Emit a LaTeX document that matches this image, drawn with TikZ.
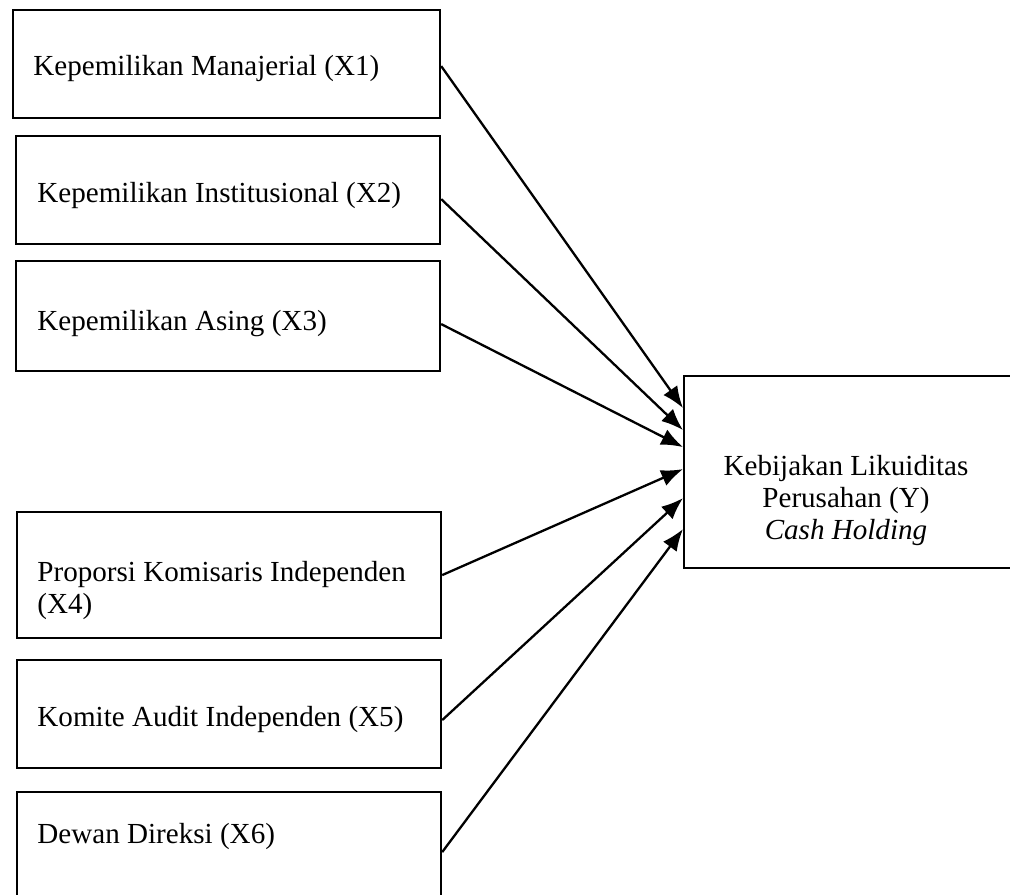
\documentclass[tikz,border=0pt]{standalone}
\usepackage{fontspec}
\setmainfont{Liberation Serif}
\usetikzlibrary{positioning,calc,arrows.meta}
\newdimen\px
\px=0.4125pt

\begin{document}
\begin{tikzpicture}[x=0.4125pt,y=-0.4125pt,font=\fontsize{12}{13.2}\selectfont]
    \tikzstyle{VAR} = [anchor=north west, rectangle, draw=black, line width=0.9pt, minimum width=424*\px, minimum height=108*\px, inner sep=0pt]
    \tikzstyle{LBL} = [anchor=base west, inner sep=0pt, align=left]
    \tikzstyle{PANAH} = [line width=0.95pt, -{Latex[length=9pt,width=7pt]}]
    \useasboundingbox (0,0) rectangle (1010,894);
    % variabel independen
    \node[VAR, minimum width=427*\px] (x1) at (12,9) {};
    \node[VAR] (x2) at (15,135) {};
    \node[VAR, minimum height=110*\px] (x3) at (15,260) {};
    \node[VAR, minimum height=126*\px] (x4) at (16,511) {};
    \node[VAR] (x5) at (16,659) {};
    \node[VAR, minimum height=120*\px] (x6) at (16,791) {};
    \node[LBL] (t1) at (33,76) {Kepemilikan Manajerial (X1)};
    \node[LBL] (t2) at (37,203) {Kepemilikan Institusional (X2)};
    \node[LBL] (t3) at (37,330) {Kepemilikan Asing (X3)};
    \node[LBL, anchor=west] (t4) at (37,590) {Proporsi Komisaris Independen\\(X4)};
    \node[LBL] (t5) at (37,726) {Komite Audit Independen (X5)};
    \node[LBL] (t6) at (37,843) {Dewan Direksi (X6)};
    % variabel dependen
    \node[VAR, minimum width=335*\px, minimum height=192*\px] (y) at (683,375) {};
    \node[align=center, inner sep=0pt] (ty) at (846,500) {Kebijakan Likuiditas\\Perusahan (Y)\\\textit{Cash Holding}};
    % panah
    \draw[PANAH] ($(x1.east)+(0,2)$) -- ($(y.west)+(0,-64)$);
    \draw[PANAH] ($(x2.east)+(0,9)$) -- ($(y.west)+(0,-42)$);
    \draw[PANAH] ($(x3.east)+(0,8)$) -- ($(y.west)+(0,-25)$);
    \draw[PANAH] (x4.east) -- ($(y.west)+(0,-3)$);
    \draw[PANAH] ($(x5.east)+(0,6)$) -- ($(y.west)+(0,26)$);
    \draw[PANAH] (x6.east) -- ($(y.west)+(0,57)$);
\end{tikzpicture}
\end{document}
